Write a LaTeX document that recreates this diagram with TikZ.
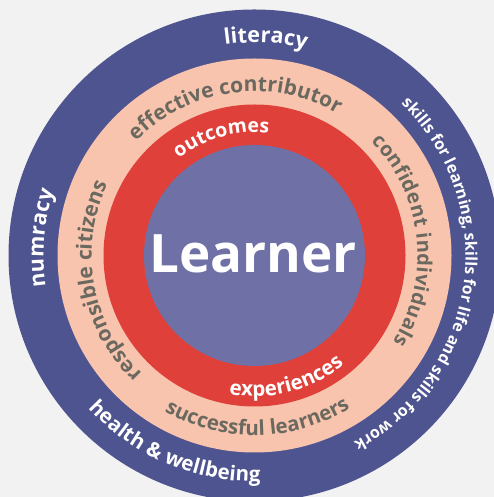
\documentclass[tikz,border=0pt]{standalone}
\usepackage{fontspec}
\setmainfont{Open Sans}
\usetikzlibrary{decorations.text,calc}

\definecolor{paper}{HTML}{F2F2F2}
\definecolor{ringnavy}{HTML}{4E548F}
\definecolor{ringpink}{HTML}{F8C4AE}
\definecolor{ringred}{HTML}{E0403A}
\definecolor{corepurple}{HTML}{6E70A6}
\definecolor{inkgray}{HTML}{6B695F}

% #1 radius, #2 start angle, #3 end angle, #4 font size, #5 colour, #6 text
\newcommand\ringlabel[6]{%
  \path[decorate, decoration={text along path, text align=fit to path,
        text color=#5, text={|\fontsize{#4}{#4}\selectfont\bfseries|#6}}]
    ($(ctr)+(#2:#1)$) arc[start angle=#2, end angle=#3, radius=#1];}

\begin{document}
\begin{tikzpicture}[x=1bp, y=1bp,
  bigword/.style={text=white, font=\fontsize{53bp}{53bp}\selectfont\bfseries}]
  \useasboundingbox (0,0) rectangle (494,497);
  \fill[paper] (0,0) rectangle (494,497);
  \coordinate (ctr) at (254.5,241.5);

  % concentric rings
  \begin{scope}
    \clip (0,0) rectangle (494,497);
    \fill[ringnavy] (ctr) circle[radius=246];
  \end{scope}
  \fill[ringpink] (ctr) circle[radius=197];
  \fill[ringred] (ctr) circle[radius=151];
  \fill[corepurple] (ctr) circle[radius=110.5];

  \node[bigword] (learner) at (253,243) {Learner};

  % outer ring
  \ringlabel{213}{98}{76}{21.5bp}{white}{literacy}
  \ringlabel{211}{188.5}{162}{21.5bp}{white}{numracy}
  \ringlabel{211}{46}{-62}{16bp}{white}{skills for learning, skills for life and skills for work}
  \ringlabel{226}{222.5}{271.5}{20.5bp}{white}{health {\&} wellbeing}

  % pink ring
  \ringlabel{164}{136}{61}{21bp}{inkgray}{effective contributor}
  \ringlabel{163}{44.5}{-32}{20bp}{inkgray}{confident individuals}
  \ringlabel{163}{226.5}{155}{21bp}{inkgray}{responsible citizens}
  \ringlabel{180}{240}{302}{20.5bp}{inkgray}{successful learners}

  % red ring
  \ringlabel{123}{128}{84}{19.5bp}{white}{outcomes}
  \ringlabel{141}{259.5}{309}{20.5bp}{white}{experiences}
\end{tikzpicture}
\end{document}
